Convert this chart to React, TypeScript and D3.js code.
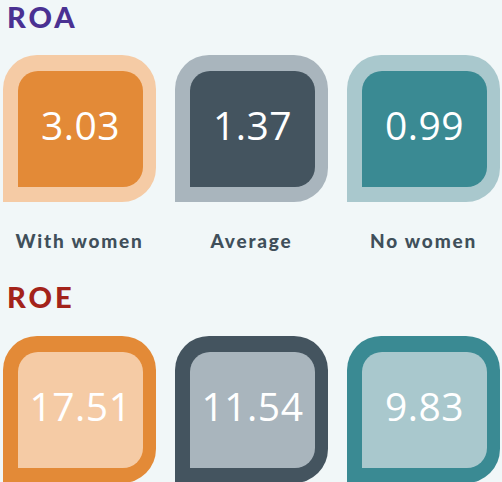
import { useEffect, useRef } from 'react'
import * as d3 from 'd3'

const groups = ['With women', 'Average', 'No women']
const roaValues = [3.03, 1.37, 0.99]
const roeValues = [17.51, 11.54, 9.83]

// dark / light pair per group
const darkColors = ['#e38a37', '#44545f', '#3a8a93']
const lightColors = ['#f5cba5', '#a9b5bd', '#a9c8cd']

const W = 502
const H = 482

// rounded rect with square bottom-left corner
const tile = (x: number, y: number, w: number, h: number, r: number) => {
    const p = d3.path()
    p.moveTo(x, y + r)
    p.arcTo(x, y, x + r, y, r)
    p.lineTo(x + w - r, y)
    p.arcTo(x + w, y, x + w, y + r, r)
    p.lineTo(x + w, y + h - r)
    p.arcTo(x + w, y + h, x + w - r, y + h, r)
    p.lineTo(x, y + h)
    p.closePath()
    return p.toString()
}

const App = () => {
    const svgRef = useRef<SVGSVGElement>(null)

    useEffect(() => {
        if (!svgRef.current) return
        const svg = d3.select(svgRef.current)
        svg.selectAll('*').remove()

        const x = d3
            .scaleBand<string>()
            .domain(groups)
            .range([3, 500])
            .paddingInner(19 / 172)
            .paddingOuter(0)
        const bw = x.bandwidth()
        const bh = 147

        svg.append('rect').attr('width', W).attr('height', H).attr('fill', '#f1f7f8')

        const sections = [
            { title: 'ROA', color: '#4a3192', top: 55, titleY: 28, values: roaValues, invert: false },
            { title: 'ROE', color: '#a3231a', top: 336, titleY: 308, values: roeValues, invert: true },
        ]

        sections.forEach(s => {
            svg.append('text')
                .attr('x', 7)
                .attr('y', s.titleY)
                .attr('fill', s.color)
                .attr('font-family', 'Lato, sans-serif')
                .attr('font-weight', 900)
                .attr('font-size', 29)
                .attr('letter-spacing', 3)
                .text(s.title)

            const g = svg
                .selectAll(null)
                .data(groups)
                .enter()
                .append('g')

            g.append('path')
                .attr('d', d => tile(x(d)!, s.top, bw, bh, 34))
                .attr('fill', (_, i) => (s.invert ? darkColors[i] : lightColors[i]))
            g.append('path')
                .attr('d', d => tile(x(d)! + 15, s.top + 16, bw - 28, bh - 31, 20))
                .attr('fill', (_, i) => (s.invert ? lightColors[i] : darkColors[i]))
            g.append('text')
                .attr('x', d => x(d)! + 15 + (bw - 28) / 2)
                .attr('y', s.top + 16 + 69)
                .attr('text-anchor', 'middle')
                .attr('fill', '#ffffff')
                .attr('font-family', 'Open Sans, sans-serif')
                .attr('font-weight', 400)
                .attr('font-size', 39)
                .attr('letter-spacing', 0.5)
                .text((_, i) => d3.format('.2f')(s.values[i]))
        })

        svg.selectAll(null)
            .data(groups)
            .enter()
            .append('text')
            .attr('x', d => x(d)! + bw / 2)
            .attr('y', 248)
            .attr('text-anchor', 'middle')
            .attr('fill', '#404f5a')
            .attr('font-family', 'Lato, sans-serif')
            .attr('font-weight', 900)
            .attr('font-size', 19)
            .attr('letter-spacing', 1.8)
            .text(d => d)
    }, [])

    return (
        <div style={{ position: 'fixed', top: 0, left: 0, width: W, height: H }}>
            <svg ref={svgRef} width={W} height={H} style={{ display: 'block' }}></svg>
        </div>
    )
}

export default App
